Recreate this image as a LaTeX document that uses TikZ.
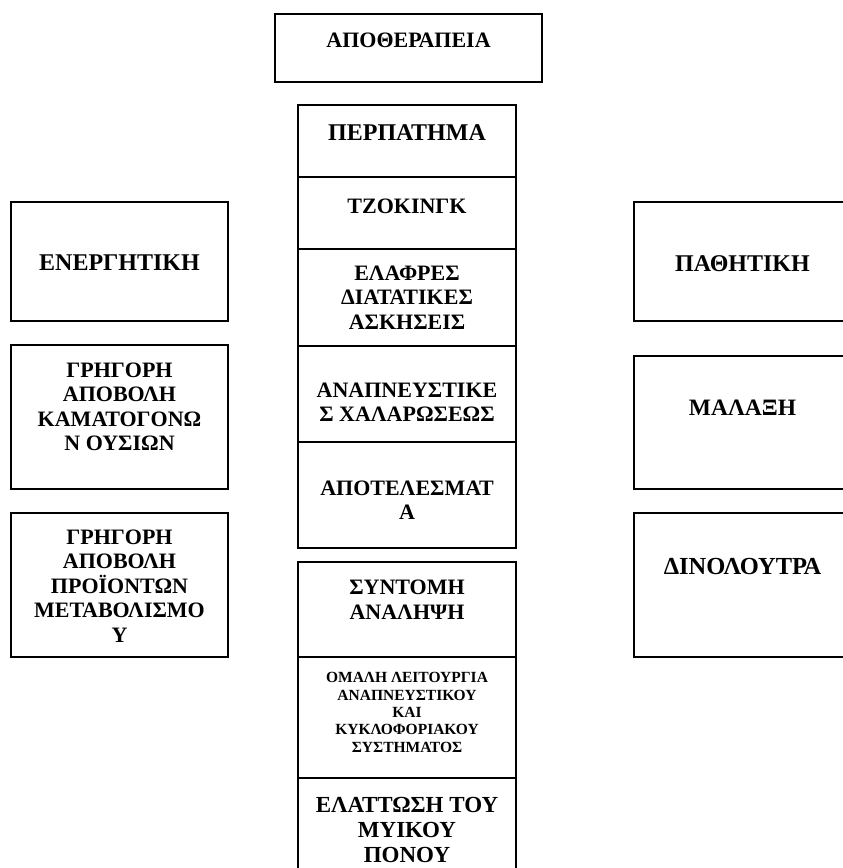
\documentclass[tikz,border=0pt]{standalone}
\usepackage{fontspec}
\setmainfont{Liberation Serif}
\usetikzlibrary{positioning}
\tikzset{
  box/.style={draw, line width=1.2pt, outer sep=0pt, inner sep=0pt},
  mid/.style={box, minimum width=218pt},
  side/.style={box, minimum width=217pt},
  txt/.style={font=\bfseries\fontsize{22}{24.5}\selectfont, align=center, inner sep=0pt},
  title/.style={txt, font=\bfseries\fontsize{#1}{#1}\selectfont},
  small/.style={font=\bfseries\fontsize{15.5}{17.3}\selectfont, align=center, inner sep=0pt}
}
\begin{document}
\begin{tikzpicture}[x=1pt, y=-1pt]
    \useasboundingbox (0,0) rectangle (843,868);
    \clip (0,0) rectangle (843,868);
    % title
    \node[box, minimum width=267pt, minimum height=68pt] (therapy) at (408.5,48) {};
    \node[txt, below=18.5pt of therapy.north] (therapy-t) {ΑΠΟΘΕΡΑΠΕΙΑ};
    % middle column
    \node[mid, minimum height=72pt, anchor=north] (walk) at (407,105) {};
    \node[mid, minimum height=72pt, below=0pt of walk] (jog) {};
    \node[mid, minimum height=97pt, below=0pt of jog] (stretch) {};
    \node[mid, minimum height=96pt, below=0pt of stretch] (breath) {};
    \node[mid, minimum height=106pt, below=0pt of breath] (results) {};
    \node[title=24, below=19pt of walk.north] (walk-t) {ΠΕΡΠΑΤΗΜΑ};
    \node[txt, below=22pt of jog.north] (jog-t) {ΤΖΟΚΙΝΓΚ};
    \node[txt, below=16.5pt of stretch.north] (stretch-t) {ΕΛΑΦΡΕΣ\\ΔΙΑΤΑΤΙΚΕΣ\\ΑΣΚΗΣΕΙΣ};
    \node[txt, below=36.5pt of breath.north] (breath-t) {ΑΝΑΠΝΕΥΣΤΙΚΕ\\Σ ΧΑΛΑΡΩΣΕΩΣ};
    \node[txt, below=38.5pt of results.north] (results-t) {ΑΠΟΤΕΛΕΣΜΑΤ\\Α};
    % lower middle column
    \node[mid, minimum height=95pt, anchor=north] (recovery) at (407,562) {};
    \node[mid, minimum height=121pt, below=0pt of recovery] (function) {};
    \node[mid, minimum height=100pt, below=0pt of function] (pain) {};
    \node[txt, below=18pt of recovery.north] (recovery-t) {ΣΥΝΤΟΜΗ\\ΑΝΑΛΗΨΗ};
    \node[small, below=15.5pt of function.north] (function-t) {ΟΜΑΛΗ ΛΕΙΤΟΥΡΓΙΑ\\ΑΝΑΠΝΕΥΣΤΙΚΟΥ\\ΚΑΙ\\ΚΥΚΛΟΦΟΡΙΑΚΟΥ\\ΣΥΣΤΗΜΑΤΟΣ};
    \node[txt, below=19.5pt of pain.north, font=\bfseries\fontsize{23}{25}\selectfont] (pain-t) {ΕΛΑΤΤΩΣΗ ΤΟΥ\\ΜΥΙΚΟΥ\\ΠΟΝΟΥ};
    % left column
    \node[side, minimum height=119pt, anchor=north] (active) at (119.5,202) {};
    \node[side, minimum height=144pt, below=24pt of active] (waste) {};
    \node[side, minimum height=144pt, below=24pt of waste] (metab) {};
    \node[title=24, below=53pt of active.north] (active-t) {ΕΝΕΡΓΗΤΙΚΗ};
    \node[txt, below=17.5pt of waste.north] (waste-t) {ΓΡΗΓΟΡΗ\\ΑΠΟΒΟΛΗ\\ΚΑΜΑΤΟΓΟΝΩ\\Ν ΟΥΣΙΩΝ};
    \node[txt, below=16.5pt of metab.north] (metab-t) {ΓΡΗΓΟΡΗ\\ΑΠΟΒΟΛΗ\\ΠΡΟΪΟΝΤΩΝ\\ΜΕΤΑΒΟΛΙΣΜΟ\\Υ};
    % right column
    \node[side, minimum height=119pt, anchor=north] (passive) at (742.5,202) {};
    \node[side, minimum height=133pt, below=35pt of passive] (massage) {};
    \node[side, minimum height=144pt, below=24pt of massage] (whirl) {};
    \node[title=24, below=53pt of passive.north] (passive-t) {ΠΑΘΗΤΙΚΗ};
    \node[title=23.5, below=44pt of massage.north] (massage-t) {ΜΑΛΑΞΗ};
    \node[title=24.5, below=45pt of whirl.north] (whirl-t) {ΔΙΝΟΛΟΥΤΡΑ};
\end{tikzpicture}
\end{document}
